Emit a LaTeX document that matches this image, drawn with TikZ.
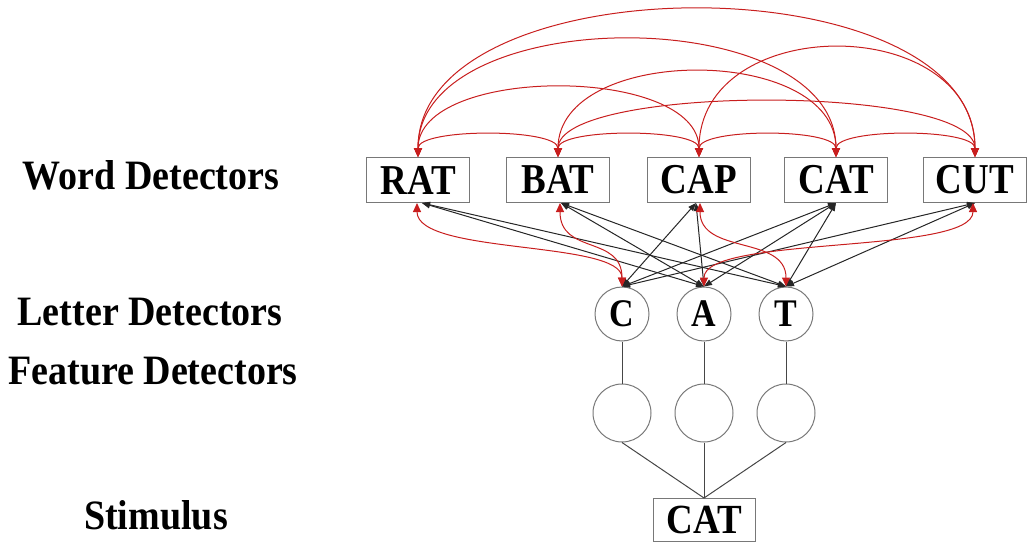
\documentclass[tikz,border=0pt]{standalone}
\usepackage{fontspec}
\setmainfont{Liberation Serif}
\usetikzlibrary{arrows.meta}
\definecolor{boxgray}{RGB}{120,120,120}
\definecolor{linegray}{RGB}{70,70,70}
\definecolor{inhred}{RGB}{200,30,30}
\newcommand{\tallt}[2][1.12]{\scalebox{1}[#1]{#2}}
\begin{document}
\begin{tikzpicture}[x=1pt,y=-1pt,
  wordbox/.style={draw=boxgray, line width=1pt, minimum width=103pt, minimum height=45pt, inner sep=0pt, font=\fontsize{37}{37}\selectfont\bfseries},
  letterc/.style={circle, draw=boxgray, line width=1pt, minimum size=54pt, inner sep=0pt, font=\fontsize{34}{34}\selectfont\bfseries},
  featurec/.style={circle, draw=boxgray, line width=1pt, minimum size=58pt, inner sep=0pt},
  lefttext/.style={font=\fontsize{38}{38}\selectfont\bfseries, anchor=base, inner sep=0pt},
  inhib/.style={draw=inhred, line width=1pt, {Triangle[length=9pt,width=8pt]}-{Triangle[length=9pt,width=8pt]}},
  excit/.style={draw=black!85, line width=1pt, {Triangle[length=8pt,width=6pt]}-{Triangle[length=8pt,width=6pt]}},
  plainline/.style={draw=linegray, line width=1pt}
]
\useasboundingbox (0,0) rectangle (1031,543);

% left labels
\node[lefttext] (lw) at (151,189) {\tallt[1.1]{Word Detectors}};
\node[lefttext] (ll) at (150,325) {\tallt[1.1]{Letter Detectors}};
\node[lefttext] (lf) at (153,384) {\tallt[1.1]{Feature Detectors}};
\node[lefttext] (ls) at (156,529) {\tallt[1.1]{Stimulus}};

% word detectors
\node[wordbox] (RAT) at (418,180) {\tallt[1.15]{RAT}};
\node[wordbox] (BAT) at (558,180) {\tallt[1.15]{BAT}};
\node[wordbox] (CAP) at (699,180) {\tallt[1.15]{CAP}};
\node[wordbox] (CAT) at (836,180) {\tallt[1.15]{CAT}};
\node[wordbox] (CUT) at (975,180) {\tallt[1.15]{CUT}};

% letter detectors
\node[letterc] (C) at (622,314) {\tallt[1.15]{C}};
\node[letterc] (A) at (704,314) {\tallt[1.15]{A}};
\node[letterc] (T) at (786,314) {\tallt[1.15]{T}};

% feature detectors
\node[featurec] (F1) at (622,413) {};
\node[featurec] (F2) at (704,413) {};
\node[featurec] (F3) at (786,413) {};

% stimulus
\node[wordbox, minimum width=102pt, minimum height=43pt] (S) at (704,520) {\tallt[1.12]{CAT}};

% lower connections
\draw[plainline] (C) -- (F1);
\draw[plainline] (A) -- (F2);
\draw[plainline] (T) -- (F3);
\draw[plainline] (F1.south) -- (S.north);
\draw[plainline] (F2.south) -- (S.north);
\draw[plainline] (F3.south) -- (S.north);

% top inhibitory arcs between words
\draw[inhib] (RAT.north) .. controls (418,128) and (558,128) .. (BAT.north);
\draw[inhib] (BAT.north) .. controls (558,128) and (699,128) .. (CAP.north);
\draw[inhib] (CAP.north) .. controls (699,128) and (836,128) .. (CAT.north);
\draw[inhib] (CAT.north) .. controls (836,128) and (975,128) .. (CUT.north);
\draw[inhib] (RAT.north) .. controls (418,65) and (699,65) .. (CAP.north);
\draw[inhib] (BAT.north) .. controls (558,44) and (836,44) .. (CAT.north);
\draw[inhib] (CAP.north) .. controls (699,12) and (975,12) .. (CUT.north);
\draw[inhib] (RAT.north) .. controls (418,1) and (836,1) .. (CAT.north);
\draw[inhib] (BAT.north) .. controls (558,84) and (975,84) .. (CUT.north);
\draw[inhib] (RAT.north) .. controls (418,-39) and (975,-39) .. (CUT.north);

% excitatory letter-word connections
\draw[excit] ([xshift=4pt]RAT.south) -- (A.north);
\draw[excit] ([xshift=4pt]RAT.south) -- (T.north);
\draw[excit] ([xshift=3pt]BAT.south) -- (A.north);
\draw[excit] ([xshift=3pt]BAT.south) -- (T.north);
\draw[excit] ([xshift=-3pt]CAP.south) -- (C.north);
\draw[excit] ([xshift=-3pt]CAP.south) -- (A.north);
\draw[excit] (CAT.south) -- (C.north);
\draw[excit] (CAT.south) -- (A.north);
\draw[excit] (CAT.south) -- (T.north);
\draw[excit] (CUT.south) -- (C.north);
\draw[excit] (CUT.south) -- (T.north);

% inhibitory letter-word connections
\draw[inhib] ([xshift=-1pt]RAT.south) .. controls (417,255) and (622,240) .. (C.north);
\draw[inhib] ([xshift=2pt]BAT.south) .. controls (560,255) and (622,235) .. (C.north);
\draw[inhib] ([xshift=1pt]CAP.south) .. controls (700,255) and (786,235) .. (T.north);
\draw[inhib] ([xshift=-2pt]CUT.south) .. controls (973,255) and (704,235) .. (A.north);
\end{tikzpicture}
\end{document}
